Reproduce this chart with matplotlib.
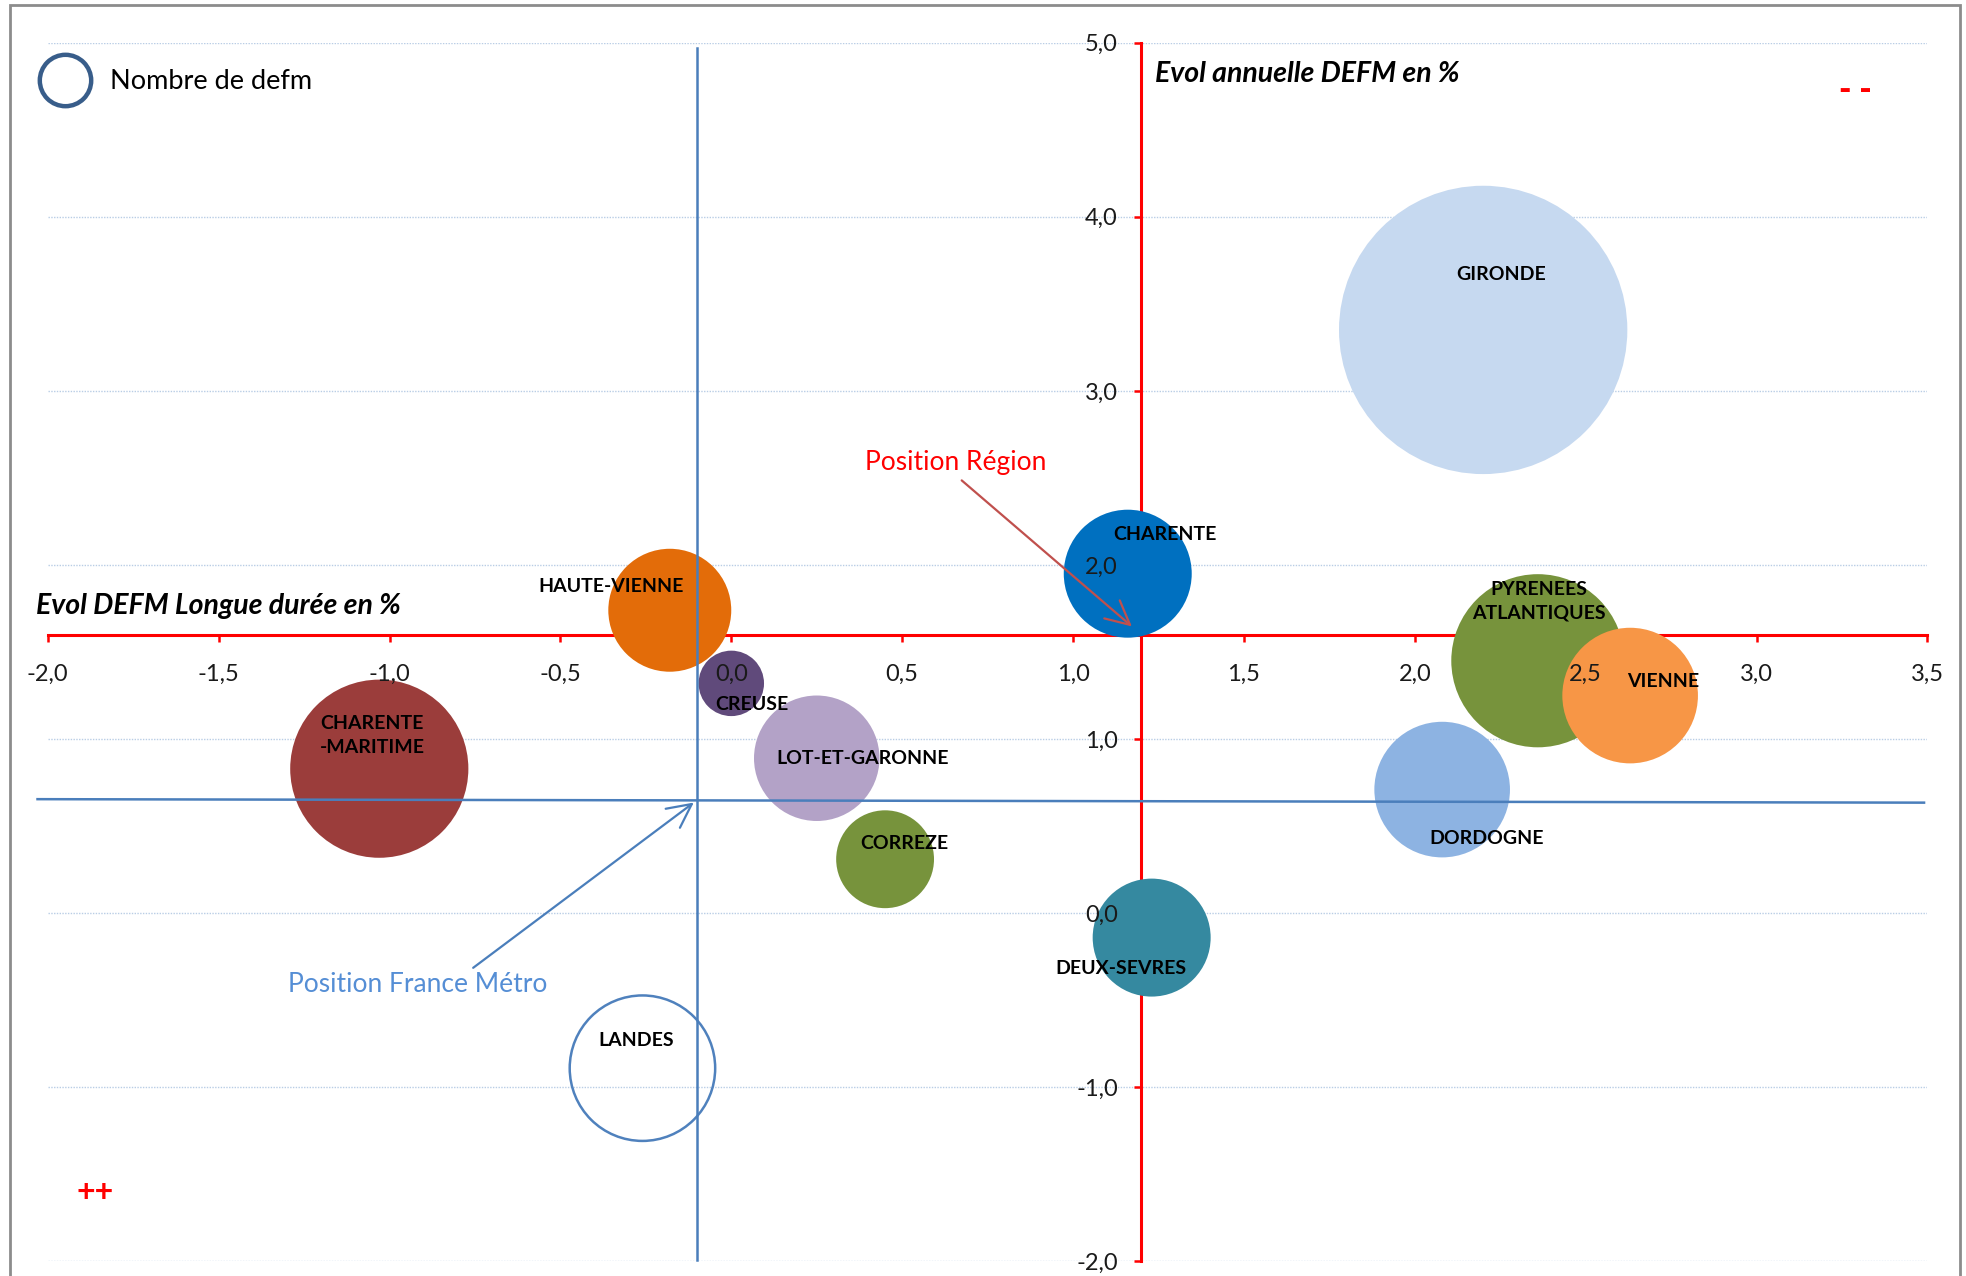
import matplotlib
matplotlib.use("Agg")
import matplotlib.pyplot as plt
from matplotlib.lines import Line2D
from matplotlib.patches import Rectangle
from matplotlib.ticker import FuncFormatter, MultipleLocator
import numpy as np

plt.rcParams['font.family'] = ['Lato', 'DejaVu Sans']

# ---------------- data ----------------
departements = ["GIRONDE", "CHARENTE", "HAUTE-VIENNE", "CHARENTE\n-MARITIME",
                "LOT-ET-GARONNE", "CORREZE", "LANDES", "DEUX-SEVRES",
                "DORDOGNE", "PYRENEES\nATLANTIQUES", "VIENNE", "CREUSE"]
evol_longue_duree = [2.20, 1.16, -0.18, -1.03, 0.25, 0.45, -0.26, 1.23,
                     2.08, 2.36, 2.63, 0.00]
evol_annuelle = [3.35, 1.95, 1.74, 0.83, 0.89, 0.31, -0.89, -0.14,
                 0.71, 1.45, 1.25, 1.32]
nombre_defm = [132000, 26000, 24000, 50400, 25000, 15200, 33600, 22100,
               29200, 47600, 29200, 6800]

region_pos = (1.2, 1.6)        # Position Région (axes crossing)
france_pos = (-0.1, 0.65)      # Position France Métro

y_ticks = np.arange(-2.0, 5.01, 1.0)

# ---------------- styles ----------------
colors = ["#C6D9F0", "#0070C0", "#E36C09", "#9B3D3B",
          "#B3A2C7", "#77933C", "none", "#3589A0",
          "#8DB3E2", "#77933C", "#F79646", "#604A7B"]
edgecolors = ["none"] * 6 + ["#4F81BD"] + ["none"] * 5
label_offsets = [(13, 40), (27, 28), (-42, 17), (-5, 24),
                 (33, 0), (13.5, 11), (-4.5, 20), (-22, -22.6),
                 (32, -35), (1, 43), (24, 10), (14.5, -15.4)]
max_radius_pt = 103.8

fig = plt.figure(figsize=(19.66, 12.76), dpi=100)
rect = [0.0243, 0.0114, 0.9561, 0.9552]
ax = fig.add_axes(rect)
ax.set_xlim(-2.0, 3.5)
ax.set_ylim(-2.0, 5.0)

# gridlines (below bubbles)
for yv in y_ticks:
    ax.axhline(yv, color="#B9CDE5", lw=1.0, ls=(0, (1, 1)), zorder=0.5)

# bubbles
sizes = [(2 * max_radius_pt) ** 2 * n / max(nombre_defm) for n in nombre_defm]
for xv, yv, s, c, ec in zip(evol_longue_duree, evol_annuelle, sizes, colors, edgecolors):
    ax.scatter([xv], [yv], s=s, c=c, edgecolors=ec, linewidths=1.8, zorder=3)

# labels
for name, xv, yv, off in zip(departements, evol_longue_duree, evol_annuelle, label_offsets):
    ax.annotate(name, (xv, yv), xytext=off, textcoords="offset points",
                ha="center", va="center", fontsize=14, fontweight="bold",
                color="black", zorder=6, linespacing=1.45)

fmt = FuncFormatter(lambda v, p: f"{v:.1f}".replace(".", ","))


def setup_axes(a, visible_spines):
    for side in ["top", "right"]:
        a.spines[side].set_visible(False)
    a.spines["left"].set_position(("data", region_pos[0]))
    a.spines["bottom"].set_position(("data", region_pos[1]))
    for side in ["left", "bottom"]:
        a.spines[side].set_color("#FF0000")
        a.spines[side].set_linewidth(2.2)
        a.spines[side].set_zorder(2)
        a.spines[side].set_visible(visible_spines)
    a.xaxis.set_major_locator(MultipleLocator(0.5))
    a.yaxis.set_major_locator(MultipleLocator(1.0))
    a.xaxis.set_major_formatter(fmt)
    a.yaxis.set_major_formatter(fmt)
    a.tick_params(axis="both", direction="out", length=5, width=1.8,
                  labelsize=17, labelcolor="#1a1a1a")
    a.tick_params(axis="x", pad=16)
    a.tick_params(axis="y", pad=12)


# red axes crossing at region position (ticks below bubbles)
setup_axes(ax, True)
ax.tick_params(axis="both", color="#FF0000", labelbottom=False, labelleft=False)
ax.patch.set_visible(False)

# overlay axes carrying the tick labels above the bubbles
ax2 = fig.add_axes(rect, sharex=ax, sharey=ax)
setup_axes(ax2, False)
ax2.tick_params(axis="both", color="none")
ax2.patch.set_visible(False)

# France Métro lines (blue)
ax.plot([france_pos[0], france_pos[0]], [-1.99, 4.97], color="#4A7EBB", lw=1.8,
        zorder=4, clip_on=False)
ax.plot([-2.03, 3.49], [france_pos[1] + 0.005, france_pos[1] - 0.015], color="#4A7EBB",
        lw=1.8, zorder=4, clip_on=False)

# annotations
ax2.annotate("Position Région", xy=region_pos, xytext=(-134, 124),
             textcoords="offset points", ha="center", va="center",
             fontsize=19, color="#FF0000", zorder=7,
             arrowprops=dict(arrowstyle="->,head_length=0.9,head_width=0.45",
                             color="#C0504D", lw=1.6, shrinkA=3, shrinkB=9,
                             relpos=(0.5, 0.0)))
ax2.annotate("Position France Métro", xy=france_pos, xytext=(-201, -133),
             textcoords="offset points", ha="center", va="center",
             fontsize=19, color="#558ED5", zorder=7,
             arrowprops=dict(arrowstyle="->,head_length=0.9,head_width=0.45",
                             color="#4A7EBB", lw=1.6, shrinkA=2, shrinkB=3,
                             relpos=(0.69, 1.0)))

# axis titles
ax2.text(0.589, 0.974, "Evol annuelle DEFM en %", transform=ax.transAxes,
         ha="left", va="center", fontsize=20.5, fontweight="bold", style="italic",
         color="black", zorder=7)
ax2.text(-0.006, 0.538, "Evol DEFM Longue durée en %", transform=ax.transAxes,
         ha="left", va="center", fontsize=20.5, fontweight="bold", style="italic",
         color="black", zorder=7)

# quadrant markers
fig.text(0.9437, 0.9295, "- -", color="#FF0000", fontsize=24, fontweight="heavy",
         ha="center", va="center")
fig.text(0.0485, 0.0658, "++", color="#FF0000", fontsize=23, fontweight="bold",
         ha="center", va="center")

# legend
handle = Line2D([], [], marker="o", linestyle="", markerfacecolor="none",
                markeredgecolor="#385D8A", markeredgewidth=3.2, markersize=37)
fig.legend([handle], ["Nombre de defm"], loc="center left",
           bbox_to_anchor=(0.0192, 0.936), frameon=False, fontsize=19.5,
           borderpad=0, borderaxespad=0, handletextpad=0.65, handlelength=2.0)

# outer frame
fig.patches.append(Rectangle((0.0051, -0.01), 0.9921, 1.006, transform=fig.transFigure,
                             fill=False, edgecolor="#8C8C8C", lw=2.0))

fig.savefig("out.png", dpi=100)
